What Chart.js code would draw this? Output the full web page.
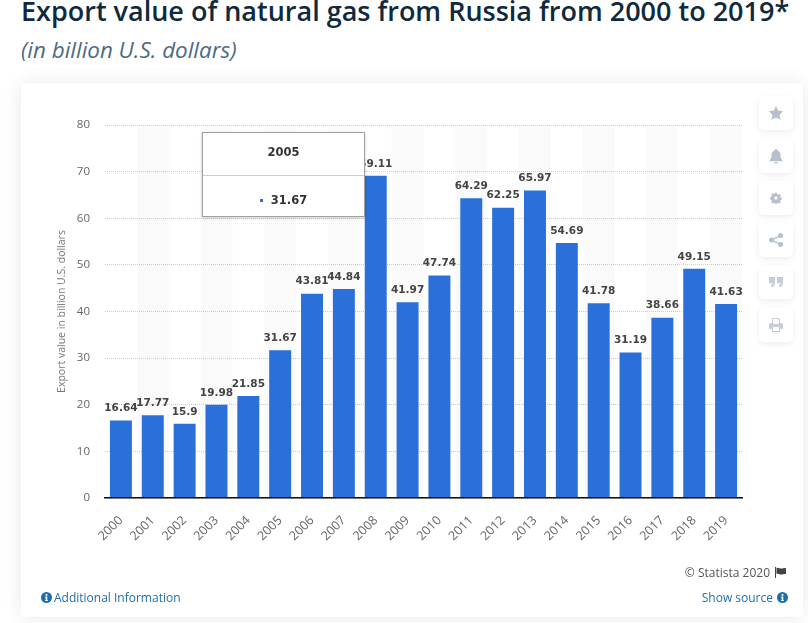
<!DOCTYPE html>
<html>
<head>
<meta charset="utf-8">
<script src="https://cdn.jsdelivr.net/npm/chart.js@4/dist/chart.umd.min.js"></script>
<style>
html, body { margin: 0; padding: 0; background: #fff; overflow: hidden; }
body { width: 808px; height: 623px; position: relative; font-family: "Open Sans", sans-serif; }
h1 { position: absolute; left: 21px; top: -6px; margin: 0; font-size: 27px; line-height: 34px; font-weight: 600; color: #0f2a3d; white-space: nowrap; }
h2 { position: absolute; left: 21px; top: 36px; margin: 0; font-size: 22.4px; line-height: 28px; font-weight: 400; font-style: italic; color: #4e6a85; white-space: nowrap; }
#card { position: absolute; left: 21px; top: 83px; width: 782px; height: 534px; background: #fff; box-shadow: 0 0 18px rgba(0,0,0,.09); }
#demoChart { position: absolute; left: 0; top: 0; }
.btn { position: absolute; left: 759px; width: 34px; height: 34px; background: #fff; border-radius: 5px; box-shadow: 0 2px 7px rgba(0,0,0,.08); }
.btn svg { position: absolute; left: 9px; top: 9px; width: 16px; height: 16px; fill: #b6c0cc; }
#tip { position: absolute; left: 202px; top: 132px; width: 161px; height: 83px; background: #fff; border: 1px solid #a0a0a0; box-shadow: 0 1px 3px rgba(0,0,0,.2); color: #333; font-family: "DejaVu Sans", sans-serif; font-weight: 700; text-align: center; }
#tipHead { height: 42px; line-height: 39px; font-size: 11.5px; border-bottom: 1px solid #ccc; }
#tipBody { line-height: 49px; font-size: 11.5px; }
#tipBody i { display: inline-block; width: 3px; height: 3px; background: #2a70d8; margin-right: 8px; vertical-align: 2px; }
.foot { position: absolute; font-size: 12px; line-height: 16px; white-space: nowrap; }
.link { color: #1f6ea8; }
.foot svg { position: absolute; top: 2px; width: 11px; height: 11px; }
</style>
</head>
<body>
<h1>Export value of natural gas from Russia from 2000 to 2019*</h1>
<h2>(in billion U.S. dollars)</h2>
<div id="card"></div>
<canvas id="demoChart" width="808" height="623"></canvas>

<div class="btn" style="top:96px"><svg viewBox="0 0 16 16"><path d="M8 1l2.200 4.600 5 .7-3.600 3.500.9 5L8 12.400l-4.500 2.400.9-5L.8 6.300l5-.7z"/></svg></div>
<div class="btn" style="top:139px"><svg viewBox="0 0 16 16"><path d="M8 1a1.200 1.200 0 0 1 1.200 1.200C11.500 2.800 12.500 4.500 12.500 7c0 3 1 4.500 2 5.500v.8h-13v-.8c1-1 2-2.500 2-5.500 0-2.500 1-4.200 3.300-4.800A1.200 1.200 0 0 1 8 1zM6.300 14h3.400a1.700 1.700 0 0 1-3.400 0z"/></svg></div>
<div class="btn" style="top:181px"><svg viewBox="0 0 16 16" style="left:11px;top:11px;width:12px;height:12px"><path fill-rule="evenodd" d="M6.800 1h2.400l.4 2 1.300.6 1.800-1.100 1.700 1.700-1.100 1.800.6 1.300 2 .4v2.400l-2 .4-.6 1.300 1.100 1.800-1.700 1.700-1.800-1.100-1.300.6-.4 2H6.800l-.4-2-1.300-.6-1.800 1.100-1.700-1.700 1.100-1.800-.6-1.300-2-.4V6.700l2-.4.6-1.300-1.100-1.800 1.700-1.700 1.800 1.100 1.300-.6zM8 5.700a2.300 2.300 0 1 0 0 4.600 2.300 2.300 0 0 0 0-4.600z"/></svg></div>
<div class="btn" style="top:223px"><svg viewBox="0 0 16 16"><circle cx="12.500" cy="3.500" r="2.500"/><circle cx="3.500" cy="8" r="2.500"/><circle cx="12.500" cy="12.500" r="2.500"/><path d="M3.500 7.300l9-4.500.6 1.200-9 4.500zM4.100 7.500l9 4.500-.6 1.200-9-4.500z"/></svg></div>
<div class="btn" style="top:265px"><svg viewBox="0 0 16 16" style="fill:#c6ced8"><path d="M1 3h6v6c0 2.500-1.500 4-4 4.300v-2c1-.2 1.500-1 1.500-2H1zM9 3h6v6c0 2.500-1.500 4-4 4.300v-2c1-.2 1.500-1 1.500-2H9z"/></svg></div>
<div class="btn" style="top:308px"><svg viewBox="0 0 16 16" style="fill:#c6ced8"><path fill-rule="evenodd" d="M4 1h6.500L12 2.500V6h1.500A1.500 1.500 0 0 1 15 7.500V12h-3v3H4v-3H1V7.500A1.500 1.500 0 0 1 2.500 6H4zm1 1v5h6V3h-1V2zm0 8v4h6v-4z"/></svg></div>

<div id="tip"><div id="tipHead"></div><div id="tipBody"><i></i><span id="tipVal"></span></div></div>

<div class="foot" style="right:38px;top:565px;color:#555">© Statista 2020</div>
<div class="foot" style="left:775px;top:565px;width:12px;height:16px"><svg viewBox="0 0 12 11" style="left:0;width:12px"><path fill="#444" d="M0 0h1v11H0zM1.500 1c2-1 3.500 .8 5 .5s3-.8 4.500-.5v6c-1.500-.3-3 .2-4.500 .5s-3-1.500-5-.5z"/></svg></div>
<div class="foot link" style="left:54px;top:590px">Additional Information</div>
<div class="foot link" style="right:35px;top:590px">Show source</div>
<div class="foot" style="left:41px;top:590px;width:11px;height:16px"><svg viewBox="0 0 16 16" style="left:0"><path fill="#1f6ea8" fill-rule="evenodd" d="M8 0a8 8 0 1 1 0 16A8 8 0 0 1 8 0zM6.700 3v2.300h2.600V3zM6 6.500v1.700h.9v3.300H6v1.700h4v-1.700h-.9v-5z"/></svg></div>
<div class="foot" style="left:777px;top:590px;width:11px;height:16px"><svg viewBox="0 0 16 16" style="left:0"><path fill="#1f6ea8" fill-rule="evenodd" d="M8 0a8 8 0 1 1 0 16A8 8 0 0 1 8 0zM6.700 3v2.300h2.600V3zM6 6.500v1.700h.9v3.300H6v1.700h4v-1.700h-.9v-5z"/></svg></div>

<script>
const years = ['2000','2001','2002','2003','2004','2005','2006','2007','2008','2009','2010','2011','2012','2013','2014','2015','2016','2017','2018','2019'];
const values = [16.64,17.77,15.9,19.98,21.85,31.67,43.81,44.84,69.11,41.97,47.74,64.29,62.25,65.97,54.69,41.78,31.19,38.66,49.15,41.63];
const yTicks = [0,10,20,30,40,50,60,70,80];
const activeIndex = years.indexOf('2005');

document.getElementById('tipHead').textContent = years[activeIndex];
document.getElementById('tipVal').textContent = values[activeIndex];

// grey band behind every second year
const bandPlugin = {
    id: 'bands',
    beforeDraw(chart) {
        const { ctx, chartArea, scales } = chart;
        const step = scales.x.getPixelForValue(1) - scales.x.getPixelForValue(0);
        ctx.save();
        ctx.fillStyle = '#fafafa';
        years.forEach(function(y, i) {
            if (i % 2 === 1) {
                const cx = scales.x.getPixelForValue(i);
                ctx.fillRect(cx - step / 2, chartArea.top, step, chartArea.bottom - chartArea.top);
            }
        });
        ctx.restore();
    }
};

// value labels on top of the bars
const valueLabels = {
    id: 'valueLabels',
    afterDatasetsDraw(chart) {
        const ctx = chart.ctx;
        const bars = chart.getDatasetMeta(0).data;
        ctx.save();
        ctx.font = '700 10.5px "DejaVu Sans"';
        ctx.fillStyle = '#444';
        ctx.textAlign = 'center';
        ctx.textBaseline = 'middle';
        bars.forEach(function(bar, i) {
            ctx.fillText(String(values[i]), bar.x, bar.y - 12);
        });
        ctx.restore();
    }
};

new Chart(document.getElementById('demoChart'), {
    type: 'bar',
    data: {
        labels: years,
        datasets: [{
            data: values,
            backgroundColor: '#2a70d8',
            borderWidth: 0,
            categoryPercentage: 1,
            barPercentage: 0.69
        }]
    },
    plugins: [bandPlugin, valueLabels],
    options: {
        responsive: false,
        devicePixelRatio: 1,
        animation: false,
        layout: { padding: { left: 56, top: 125, right: 66, bottom: 0 } },
        plugins: { legend: { display: false }, tooltip: { enabled: false } },
        scales: {
            x: {
                grid: { display: false },
                border: { display: true, color: '#111', width: 1.5, z: 1 },
                afterFit(scale) { scale.height = 125; },
                ticks: {
                    color: '#666',
                    font: { family: 'Open Sans', size: 12.5 },
                    minRotation: 45,
                    maxRotation: 45,
                    autoSkip: false,
                    padding: 7
                }
            },
            y: {
                min: 0,
                max: 80,
                afterFit(scale) { scale.width = 49; },
                afterBuildTicks(scale) { scale.ticks = yTicks.map(function(v) { return { value: v }; }); },
                border: { display: false, dash: [1, 1] },
                grid: { color: '#ccc', lineWidth: 1, drawTicks: false },
                ticks: {
                    color: '#666',
                    font: { family: 'Open Sans', size: 11.5 },
                    padding: 15
                },
                title: {
                    display: true,
                    text: 'Export value in billion U.S. dollars',
                    color: '#777',
                    font: { family: 'Open Sans', size: 10.5 },
                    padding: 0
                }
            }
        }
    }
});
</script>
</body>
</html>
